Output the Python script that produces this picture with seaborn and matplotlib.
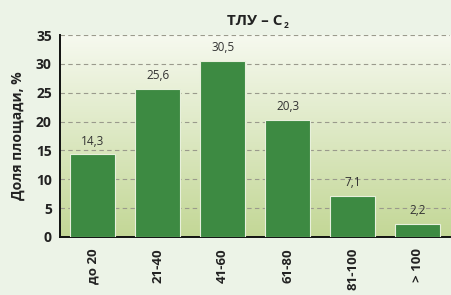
import numpy as np
import pandas as pd
import seaborn as sns
import matplotlib.pyplot as plt
from matplotlib.colors import LinearSegmentedColormap

# данные
categories = ['до 20', '21-40', '41-60', '61-80', '81-100', '> 100']
shares = [14.3, 25.6, 30.5, 20.3, 7.1, 2.2]
y_ticks = [0, 5, 10, 15, 20, 25, 30, 35]

sns.set_style("white")
plt.rcParams['font.family'] = ['Open Sans', 'DejaVu Sans']

df = pd.DataFrame({'cat': categories, 'share': shares})

fig = plt.figure(figsize=(4.52, 2.95), dpi=100, facecolor='#ecf3e7')
ax = fig.add_axes([0.133, 0.197, 0.863, 0.684])

# фон с градиентом
cmap = LinearSegmentedColormap.from_list('bg', ['#c3d796', '#f6f9ef'])
grad = np.linspace(0, 1, 256).reshape(-1, 1)
ax.imshow(grad, cmap=cmap, origin='lower', extent=[0, 1, 0, 1],
          transform=ax.transAxes, aspect='auto', zorder=0)

sns.barplot(data=df, x='cat', y='share', color='#3d8a42', saturation=1,
            width=0.7, edgecolor='#e8f0dc', linewidth=0.8, ax=ax, zorder=3)

ax.set_xlim(-0.5, len(categories) - 0.5)
ax.set_ylim(0, 35)
ax.set_yticks(y_ticks)
ax.yaxis.grid(True, linestyle=(0, (4, 3)), color='#9a9a8c', linewidth=0.8, zorder=1)
ax.set_axisbelow(True)

for b, v in zip(ax.patches, shares):
    ax.text(b.get_x() + b.get_width() / 2, v + 1.2, f'{v:.1f}'.replace('.', ','),
            ha='center', va='bottom', fontsize=8.5, color='#333333', zorder=4)

ax.set_xticks(np.arange(len(categories)) + 0.5, minor=True)
ax.tick_params(axis='x', which='major', length=0, pad=8)
ax.tick_params(axis='x', which='minor', direction='in', length=4, width=1.2, color='#222222')
ax.tick_params(axis='y', direction='in', length=5, width=1.2, color='#222222', pad=6)
plt.setp(ax.get_xticklabels(), rotation=90, fontweight='bold', fontsize=9.5, color='#222222')
plt.setp(ax.get_yticklabels(), fontweight='bold', fontsize=10, color='#222222')

for s in ['top', 'right']:
    ax.spines[s].set_visible(False)
for s in ['left', 'bottom']:
    ax.spines[s].set_color('#111111')
    ax.spines[s].set_linewidth(1.4)

ax.set_xlabel('')
ax.set_ylabel('Доля площади, %', fontweight='bold', fontsize=10, color='#222222', labelpad=8)
ax.set_title('ТЛУ – С', fontweight='bold', fontsize=11, color='#222222', pad=7)
# подстрочная двойка
ax.annotate('2', xy=(1, 0), xycoords=ax.title, xytext=(0.5, -1.5), textcoords='offset points',
            fontsize=6, fontweight='bold', color='#222222', ha='left', va='bottom')

fig.savefig('out.png', dpi=100, facecolor=fig.get_facecolor())
